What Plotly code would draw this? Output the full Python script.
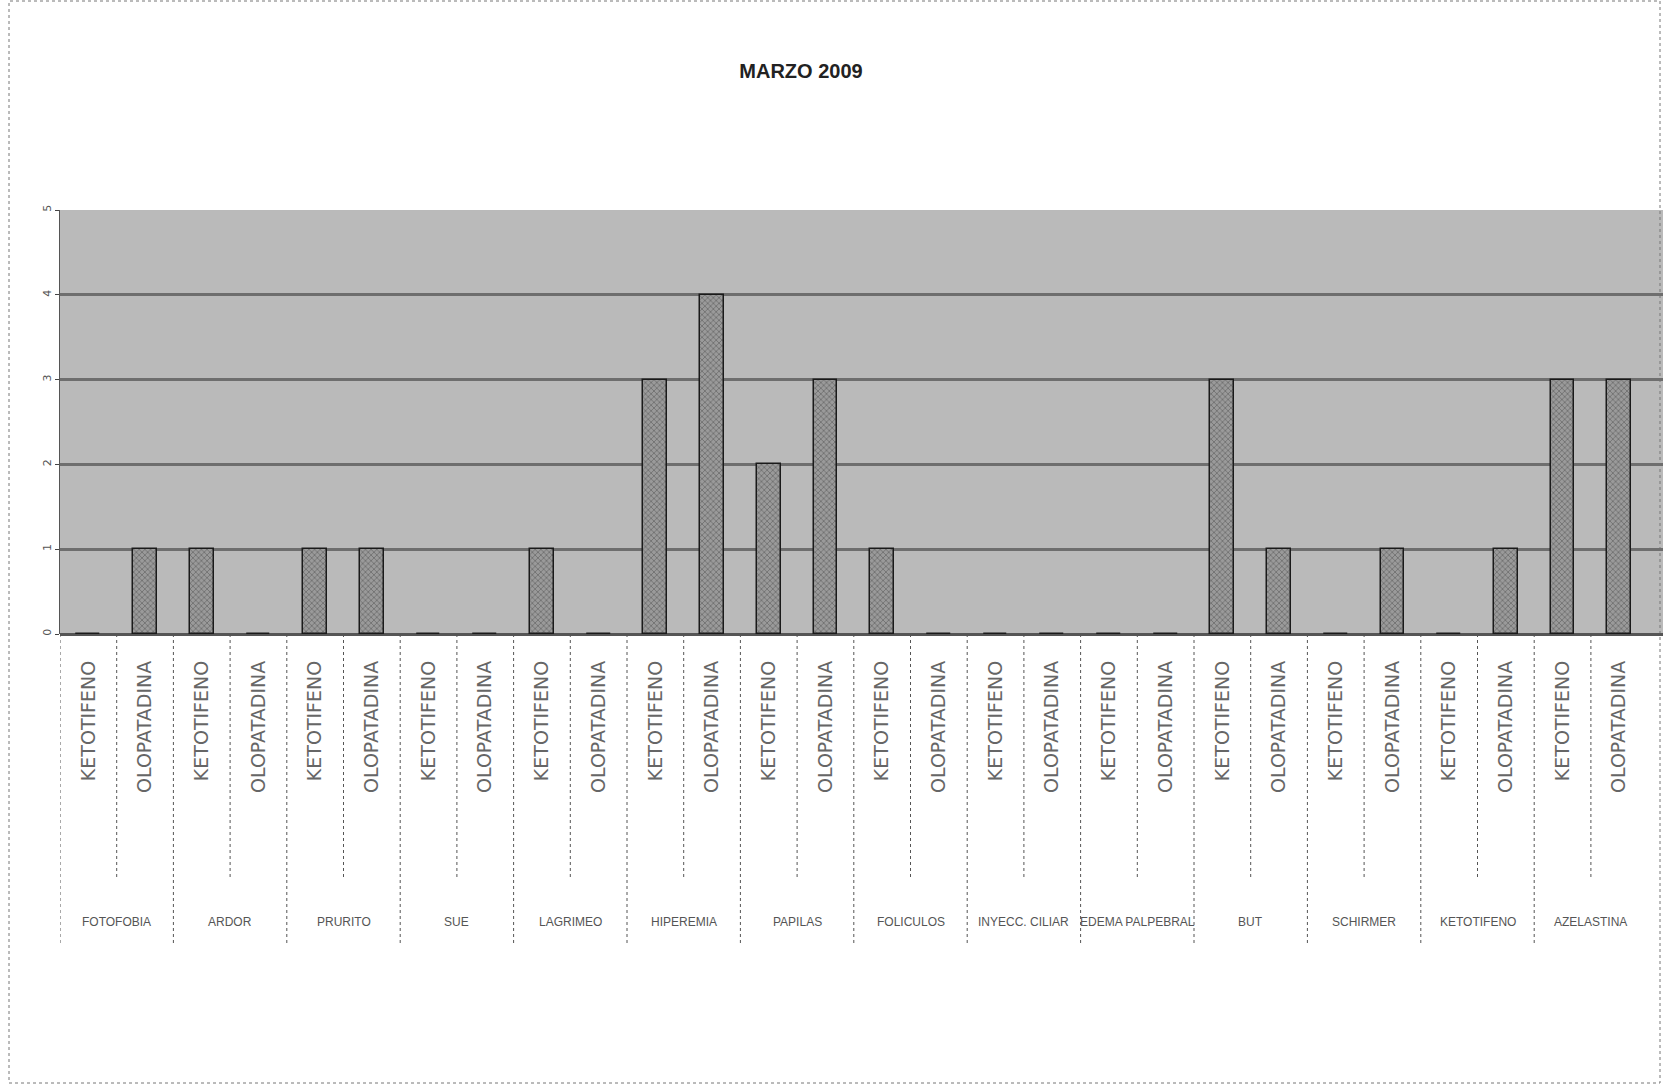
import plotly.graph_objects as go

# ---- data -------------------------------------------------------------
groups = ["FOTOFOBIA", "ARDOR", "PRURITO", "SUE", "LAGRIMEO", "HIPEREMIA",
          "PAPILAS", "FOLICULOS", "INYECC. CILIAR", "EDEMA PALPEBRAL", "BUT",
          "SCHIRMER", "KETOTIFENO", "AZELASTINA"]
sub_labels = ["KETOTIFENO", "OLOPATADINA"]
ketotifeno = [0, 1, 1, 0, 1, 3, 2, 1, 0, 0, 3, 0, 0, 3]
olopatadina = [1, 0, 1, 0, 0, 4, 3, 0, 0, 0, 1, 1, 1, 3]
y_ticks = [0, 1, 2, 3, 4, 5]
title_text = "MARZO 2009"

# ---- geometry helpers ---------------------------------------------------
W, H = 1663, 1087
L, R, T, B = 60, 0, 210, 453
plot_w = W - L - R
plot_h = H - T - B
cat_px = 56.7
x_max = -0.5 + plot_w / cat_px


def py(pix):
    """page pixel row -> paper y"""
    return (H - B - pix) / plot_h


def px(pix):
    """page pixel column -> paper x"""
    return (pix - L) / plot_w


# interleave the two series into one category sequence
xs, ys, ticktext = [], [], []
for i in range(len(groups)):
    xs += [2 * i, 2 * i + 1]
    ys += [ketotifeno[i], olopatadina[i]]
    ticktext += sub_labels

fig = go.Figure()
fig.add_trace(go.Bar(
    x=xs, y=ys, width=0.42,
    marker=dict(
        color="#8c8c8c",
        line=dict(color="#1a1a1a", width=1.5),
        pattern=dict(shape="x", fgcolor="#3a3a3a", bgcolor="#9a9a9a",
                     size=4, solidity=0.35),
    ),
    showlegend=False,
))

shapes = []
# divider lines below the axis
for i in range(len(groups)):
    # between the two sub-categories of a group
    shapes.append(dict(type="line", xref="x", yref="paper",
                       x0=2 * i + 0.5, x1=2 * i + 0.5, y0=0, y1=py(880),
                       line=dict(color="#555555", width=1, dash="dot")))
    # between groups
    shapes.append(dict(type="line", xref="x", yref="paper",
                       x0=2 * i - 0.5, x1=2 * i - 0.5, y0=0, y1=py(944),
                       line=dict(color="#555555", width=1, dash="dot")))
# page frame
shapes.append(dict(type="rect", xref="paper", yref="paper",
                   x0=px(9), x1=px(1660), y0=py(1083), y1=py(1),
                   line=dict(color="#777777", width=1, dash="dot"),
                   layer="below"))

annotations = []
for i, g in enumerate(groups):
    annotations.append(dict(
        x=2 * i + 0.5, y=py(922), xref="x", yref="paper",
        text=g, showarrow=False, xanchor="center", yanchor="middle",
        font=dict(family="Liberation Sans Narrow, Arial Narrow, Liberation Sans",
                  size=12, color="#555555"),
    ))

fig.update_layout(
    width=W, height=H,
    margin=dict(l=L, r=R, t=T, b=B, pad=0),
    paper_bgcolor="white",
    plot_bgcolor="#bababa",
    title=dict(text="<b>" + title_text + "</b>", x=801 / W, xanchor="center",
               y=1 - 71 / H, yanchor="middle",
               font=dict(family="Liberation Sans Narrow, Arial Narrow, Liberation Sans",
                         size=20, color="#222222")),
    xaxis=dict(
        range=[-0.5, x_max],
        tickmode="array", tickvals=xs, ticktext=ticktext,
        tickangle=-90, showgrid=False, zeroline=False,
        ticks="", ticklabelstandoff=22,
        tickfont=dict(family="DejaVu Sans", size=19, color="#666666"),
        showline=False,
    ),
    yaxis=dict(
        range=[0, 5], tickmode="array", tickvals=y_ticks,
        tickangle=-90, ticks="outside", ticklen=4, tickcolor="#444444",
        tickfont=dict(family="DejaVu Sans", size=11, color="#555555"),
        showgrid=True, gridcolor="#6e6e6e", gridwidth=3,
        zeroline=True, zerolinecolor="#555555", zerolinewidth=3,
        showline=True, linecolor="#555555", linewidth=1,
    ),
    shapes=shapes,
    annotations=annotations,
    bargap=0,
)

fig.write_html("out.html")
